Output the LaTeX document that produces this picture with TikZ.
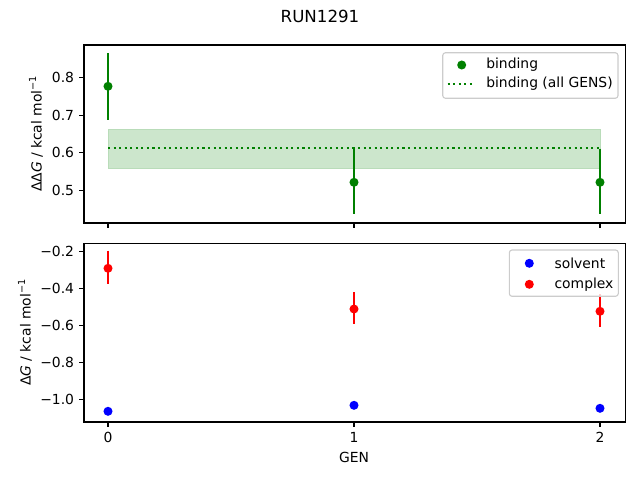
\documentclass[tikz,border=0pt]{standalone}
\usepackage{fontspec}
\setmainfont{DejaVu Sans}
\definecolor{mgreen}{RGB}{0,128,0}
\definecolor{bandfill}{RGB}{204,230,204}
\definecolor{bandedge}{RGB}{185,220,185}
\definecolor{legedge}{RGB}{204,204,204}
\definecolor{mred}{RGB}{255,0,0}
\definecolor{mblue}{RGB}{0,0,255}
\tikzset{
  spine/.style={line width=0.8pt, black},
  tickln/.style={line width=0.8pt, black},
  ticklab/.style={font=\fontsize{10}{12}\selectfont, inner sep=0pt},
  ebar/.style={line width=1.5pt},
  dotmark/.style={circle, inner sep=0pt, minimum size=6.5pt},
  legbox/.style={draw=legedge, fill=white, fill opacity=0.8, rounded corners=2pt, line width=0.8pt},
  legtxt/.style={font=\fontsize{10}{12}\selectfont, anchor=west, inner sep=0pt},
  dotline/.style={line width=1.5pt, dash pattern=on 1.5pt off 2.5pt}
}
\newcommand{\minusone}{\raisebox{0.75ex}{\fontsize{7}{8}\selectfont −1}}
\begin{document}
\begin{tikzpicture}[x=0.72pt,y=-0.72pt]
\useasboundingbox (0,0) rectangle (640,480);
% title
\node[font=\fontsize{12}{14}\selectfont] (title) at (320,16) {RUN1291};

% ===== top panel =====
\fill[bandfill, draw=bandedge, line width=0.6pt] (108,129.3) rectangle (600,168.3);
\coordinate (dl0) at (108,147.7);
\coordinate (dl1) at (600,147.7);
\draw[mgreen, dotline] (dl0) -- (dl1);
% error bars
\coordinate (b0t) at (108,53); \coordinate (b0b) at (108,120);
\coordinate (b1t) at (354,147.7); \coordinate (b1b) at (354,214.3);
\coordinate (b2t) at (600,148.7); \coordinate (b2b) at (600,213.7);
\draw[mgreen, ebar] (b0t) -- (b0b);
\draw[mgreen, ebar] (b1t) -- (b1b);
\draw[mgreen, ebar] (b2t) -- (b2b);
\node[dotmark, fill=mgreen] (b0) at (108,86.3) {};
\node[dotmark, fill=mgreen] (b1) at (354,182.3) {};
\node[dotmark, fill=mgreen] (b2) at (600,182.3) {};
% spines
\draw[spine] (84,45) rectangle (625.3,223);
% y ticks
\foreach \v/\y in {0.8/77.3,0.7/115.3,0.6/152.7,0.5/190.3}{
  \draw[tickln] (84,\y) -- (79.1,\y);
  \node[ticklab, anchor=east] at (74.3,\y) {\v};
}
% x ticks (no labels)
\foreach \x in {108,354,600}{
  \draw[tickln] (\x,223) -- (\x,227.9);
}
\node[rotate=90, font=\fontsize{10}{12}\selectfont] (ylab1) at (36,134) {ΔΔ\textit{G} / kcal mol\minusone};
% legend top
\draw[legbox] (442.7,52.7) rectangle (618,98.3);
\node[dotmark, fill=mgreen] (lb) at (461.7,65) {};
\node[legtxt] (lbt) at (486,65) {binding};
\coordinate (ld0) at (447.7,83.7);
\coordinate (ld1) at (474.3,83.7);
\draw[mgreen, dotline] (ld0) -- (ld1);
\node[legtxt] (ldt) at (486,83.7) {binding (all GENS)};

% ===== bottom panel =====
\coordinate (c0t) at (108,250.7); \coordinate (c0b) at (108,283.7);
\coordinate (c1t) at (354,292); \coordinate (c1b) at (354,324.3);
\coordinate (c2t) at (600,294); \coordinate (c2b) at (600,326.7);
\draw[mred, ebar] (c0t) -- (c0b);
\draw[mred, ebar] (c1t) -- (c1b);
\draw[mred, ebar] (c2t) -- (c2b);
\node[dotmark, fill=mblue] (s0) at (108,411.3) {};
\node[dotmark, fill=mblue] (s1) at (354,405.3) {};
\node[dotmark, fill=mblue] (s2) at (600,408.3) {};
\node[dotmark, fill=mred] (c0) at (108,268.3) {};
\node[dotmark, fill=mred] (c1) at (354,309) {};
\node[dotmark, fill=mred] (c2) at (600,311.3) {};
\draw[spine] (84,243.3) rectangle (625.3,422);
\foreach \v/\y in {−0.2/251.7,−0.4/288.3,−0.6/325.3,−0.8/362.7,−1.0/399.7}{
  \draw[tickln] (84,\y) -- (79.1,\y);
  \node[ticklab, anchor=east] at (74.3,\y) {\v};
}
\foreach \x/\l in {108/0,354/1,600/2}{
  \draw[tickln] (\x,422) -- (\x,426.9);
  \node[ticklab, anchor=north] at (\x,431.7) {\l};
}
\node[font=\fontsize{10}{12}\selectfont] (xlab) at (354,457.3) {GEN};
\node[rotate=90, font=\fontsize{10}{12}\selectfont] (ylab2) at (25,332.7) {Δ\textit{G} / kcal mol\minusone};
% legend bottom
\draw[legbox] (509.3,250) rectangle (618.3,296.3);
\node[dotmark, fill=mblue] (ls) at (529.3,263.3) {};
\node[legtxt] (lst) at (554.3,263.3) {solvent};
\node[dotmark, fill=mred] (lc) at (529.3,284.3) {};
\node[legtxt] (lct) at (554.3,284.3) {complex};
\end{tikzpicture}
\end{document}
